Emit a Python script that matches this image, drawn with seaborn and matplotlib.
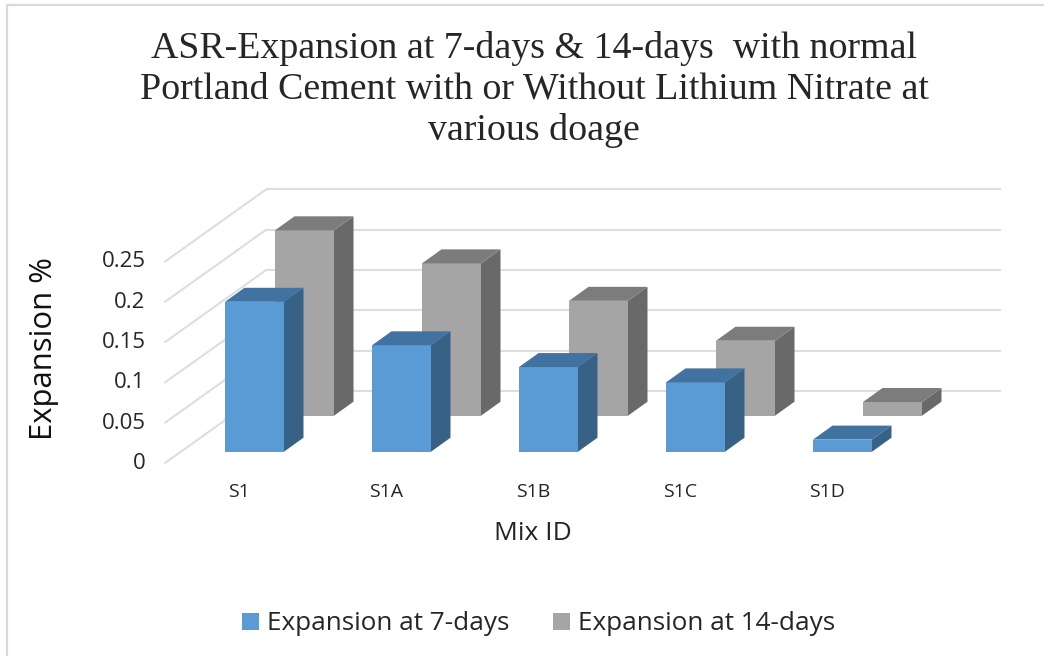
import matplotlib
matplotlib.use("Agg")
import matplotlib.pyplot as plt
import seaborn as sns
from matplotlib.lines import Line2D
from matplotlib.patches import Polygon
from matplotlib.transforms import IdentityTransform

mix_ids = ["S1", "S1A", "S1B", "S1C", "S1D"]
exp_7 = [0.186, 0.132, 0.105, 0.086, 0.015]
exp_14 = [0.23, 0.189, 0.1425, 0.093, 0.017]
y_ticks = [0, 0.05, 0.1, 0.15, 0.2, 0.25]
y_labels = ["0", "0.05", "0.1", "0.15", "0.2", "0.25"]
series_names = ["Expansion at 7-days", "Expansion at 14-days"]
title_lines = ["ASR-Expansion at 7-days & 14-days  with normal",
               "Portland Cement with or Without Lithium Nitrate at",
               "various doage"]

W, H = 1053, 656
sns.set_theme(style="white")
SANS = ["Open Sans", "DejaVu Sans"]
plt.rcParams["font.family"] = SANS

fig = plt.figure(figsize=(W / 100, H / 100), dpi=100, facecolor="white")
SPAN = 201.5
LEFT, RIGHT = 165, 1001
STEP = 147.0


def make_ax(y0, first_cat_px, z):
    ax = fig.add_axes([LEFT / W, 1 - y0 / H, (RIGHT - LEFT) / W, SPAN / H], zorder=z)
    ax.patch.set_visible(False)
    ax._first = first_cat_px
    return ax


def fix_limits(ax):
    ax.set_xlim((LEFT - ax._first) / STEP, (RIGHT - ax._first) / STEP)
    ax.set_ylim(0, 0.25)


# back wall with gridlines and side-wall diagonals
wall = fig.add_axes([266 / W, 1 - 391 / H, (RIGHT - 266) / W, SPAN / H], zorder=0)
wall.patch.set_visible(False)
wall.set_ylim(0, 0.25)
wall.set_xlim(0, 1)
wall.axis("off")
GRID = "#DEDEDE"
for v in y_ticks:
    wall.plot([0, 1], [v, v], color=GRID, lw=1.5, clip_on=False, solid_capstyle="butt")
    x_px, y_px = wall.transData.transform((0, v))
    fig.add_artist(Line2D([x_px, x_px - 101], [y_px, y_px - 72], color=GRID, lw=1.5,
                          transform=IdentityTransform(), zorder=-1))

# axis holding the tick labels
scale = make_ax(461, 239, 1)
scale.set_xticks(range(len(mix_ids)), mix_ids, fontsize=14, color="#262626")
scale.set_yticks(y_ticks, y_labels, fontsize=16, color="#262626")
fix_limits(scale)
sns.despine(ax=scale, left=True, bottom=True)
scale.tick_params(axis="x", length=0, pad=16)
scale.tick_params(axis="y", length=0, pad=14)


def draw_series(values, color, side, top, y0, first_px, z):
    ax = make_ax(y0, first_px, z)
    sns.barplot(x=mix_ids, y=values, color=color, saturation=1, width=59 / STEP, ax=ax, linewidth=0)
    fix_limits(ax)
    ax.axis("off")
    DX, DY = 19.5, 14
    for bar in list(ax.patches):
        (x0, y0_), (x1, y1_) = ax.transData.transform(
            [(bar.get_x(), bar.get_y()), (bar.get_x() + bar.get_width(), bar.get_y() + bar.get_height())])
        ax.add_patch(Polygon([(x1, y0_), (x1, y1_), (x1 + DX, y1_ + DY), (x1 + DX, y0_ + DY)],
                             closed=True, facecolor=side, edgecolor="none", transform=IdentityTransform()))
        ax.add_patch(Polygon([(x0, y1_), (x1, y1_), (x1 + DX, y1_ + DY), (x0 + DX, y1_ + DY)],
                             closed=True, facecolor=top, edgecolor="none", transform=IdentityTransform()))
    return ax


back = draw_series(exp_14, "#A5A5A5", "#696969", "#7C7C7C", 415.7, 304.5, 2)
front = draw_series(exp_7, "#5B9BD5", "#386285", "#4272A0", 451.7, 254.5, 3)

# titles and axis captions
for text, y in zip(title_lines, [48, 89, 131]):
    fig.text(534 / W, 1 - y / H, text, ha="center", va="center", fontsize=27.3,
             family=["Liberation Serif"], color="#262626")
fig.text(44 / W, 1 - 349 / H, "Expansion %", rotation=90, ha="center", va="center",
         fontsize=22.4, color="#111111")
fig.text(533 / W, 1 - 534 / H, "Mix ID", ha="center", va="center", fontsize=19, color="#262626")

# legend
handles = [front.containers[0], back.containers[0]]
fig.legend(handles, series_names, loc="center", bbox_to_anchor=(538.5 / W, 1 - 624 / H),
           ncol=2, frameon=False, fontsize=18.8, handlelength=0.65, handleheight=0.65,
           handletextpad=0.31, columnspacing=1.68, labelcolor="#262626")

# chart frame
fig.add_artist(Line2D([7 / W, 7 / W, 1043 / W], [0, 1 - 5 / H, 1 - 5 / H], color="#D9D9D9", lw=1.6))

fig.savefig("out.png", dpi=100, facecolor="white")
